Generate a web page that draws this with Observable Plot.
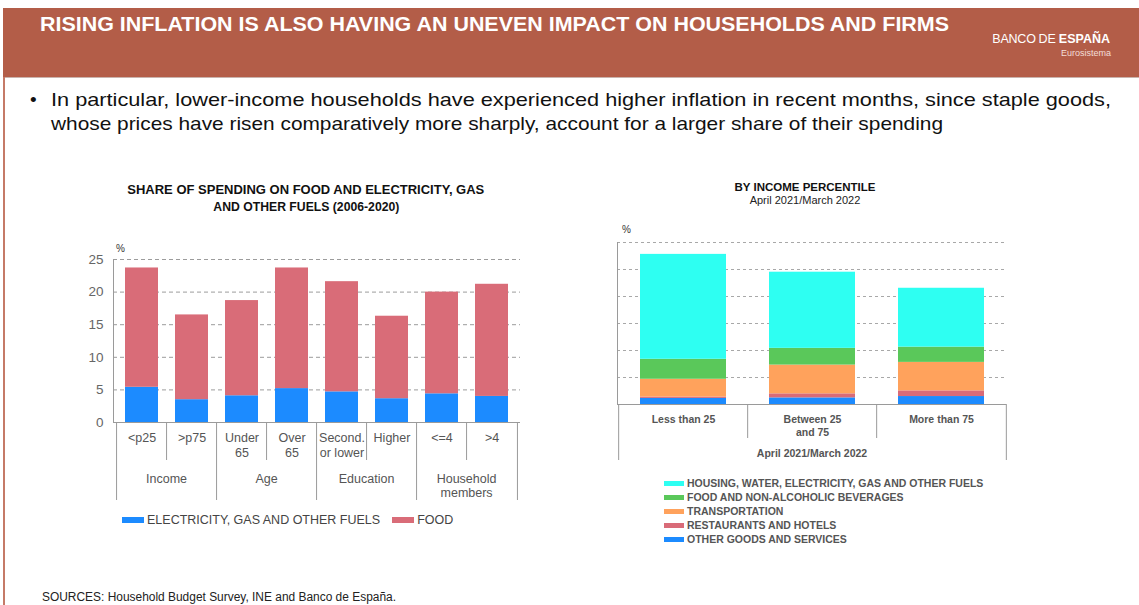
<!DOCTYPE html>
<html>
<head>
<meta charset="utf-8">
<script src="https://cdn.jsdelivr.net/npm/d3@7"></script>
<script src="https://cdn.jsdelivr.net/npm/@observablehq/plot@0.6"></script>
<style>
  html, body { margin: 0; padding: 0; background: #fff; }
  body { width: 1139px; height: 605px; position: relative; overflow: hidden; font-family: "Liberation Sans", Arial, Helvetica, sans-serif; }
  .abs { position: absolute; white-space: nowrap; }
  .fit { display: inline-block; transform-origin: 0 50%; }
  .fitc { display: inline-block; transform-origin: 50% 50%; }
  #header { position: absolute; left: 3px; top: 8px; width: 1136px; height: 69px; background: #B35D48; border-bottom: 1px solid #c9b3ad; }
  #leftborder { position: absolute; left: 3px; top: 77px; width: 2px; height: 528px; background: #C57A67; }
  .svgwrap { position: absolute; }
  .legend-row { display: flex; align-items: center; }
  .sw { display: inline-block; }
</style>
</head>
<body>
<div id="header"></div>
<div id="leftborder"></div>
<div class="abs" style="left:40px; top:13px; font-size:21px; line-height:21px; font-weight:bold; color:#fff;"><span class="fit" data-w="909">RISING INFLATION IS ALSO HAVING AN UNEVEN IMPACT ON HOUSEHOLDS AND FIRMS</span></div>
<div class="abs" style="right:29px; top:32px; font-size:12.5px; line-height:14px; color:#fff; letter-spacing:-0.2px;">BANCO<span style="letter-spacing:-0.6px"> </span>DE <b style="letter-spacing:0">ESPAÑA</b></div>
<div class="abs" style="right:28px; top:48px; font-size:9px; line-height:10px; color:#f3ded8;">Eurosistema</div>

<div class="abs" style="left:30px; top:88px; font-size:19px; line-height:24px; color:#111;">•</div>
<div class="abs" style="left:51px; top:88px; font-size:19px; line-height:24px; color:#111;"><span class="fit" data-w="1060">In particular, lower-income households have experienced higher inflation in recent months, since staple goods,</span></div>
<div class="abs" style="left:51px; top:112px; font-size:19px; line-height:24px; color:#111;"><span class="fit" data-w="892">whose prices have risen comparatively more sharply, account for a larger share of their spending</span></div>

<div class="abs" style="left:106px; top:182px; width:400px; text-align:center; font-size:12px; line-height:17px; font-weight:bold; color:#111;"><span class="fitc" data-w="357">SHARE OF SPENDING ON FOOD AND ELECTRICITY, GAS</span><br><span class="fitc" data-w="186">AND OTHER FUELS (2006-2020)</span></div>
<div class="abs" style="left:116px; top:243px; font-size:10px; line-height:12px; color:#333;">%</div>

<div class="abs" style="left:655px; top:181px; width:300px; text-align:center; font-size:11.5px; line-height:13px; color:#222;"><b style="color:#111">BY INCOME PERCENTILE</b><br><span style="font-size:11px">April 2021/March 2022</span></div>
<div class="abs" style="left:622px; top:224px; font-size:10px; line-height:12px; color:#333;">%</div>

<div id="chart1" class="svgwrap" style="left:60px; top:235px;"></div>
<div id="chart2" class="svgwrap" style="left:560px; top:220px;"></div>

<div id="legend1" class="abs legend-row" style="left:122px; top:512px; height:16px; font-size:12.5px; color:#444;"></div>
<div id="legend2" class="abs" style="left:664px; top:476px; font-size:10.5px; font-weight:bold; color:#555;"></div>

<div class="abs" style="left:42px; top:590px; font-size:12px; line-height:14px; color:#222;"><span class="fit" data-w="354">SOURCES: Household Budget Survey, INE and Banco de España.</span></div>

<script>
// ---------- LEFT CHART DATA ----------
const leftCategories = ["<p25", ">p75", "Under 65", "Over 65", "Second. or lower", "Higher", "<=4", ">4"];
const leftTickLabels = ["<p25", ">p75", "Under\n65", "Over\n65", "Second.\nor lower", "Higher", "<=4", ">4"];
const leftGroupOfCategory = ["Income", "Income", "Age", "Age", "Education", "Education", "Household\nmembers", "Household\nmembers"];
const leftSeries = ["ELECTRICITY, GAS AND OTHER FUELS", "FOOD"];
const electricityGasFuels = [5.4, 3.5, 4.1, 5.2, 4.7, 3.65, 4.4, 4.0];
const foodShare = [18.3, 13.0, 14.6, 18.5, 16.9, 12.65, 15.6, 17.2];
const leftYTicks = [0, 5, 10, 15, 20, 25];
const leftColors = ["#1C8BFF", "#D96C78"];

// ---------- RIGHT CHART DATA ----------
const rightCategories = ["Less than 25", "Between 25 and 75", "More than 75"];
const rightTickLabels = ["Less than 25", "Between 25\nand 75", "More than 75"];
const rightAxisTitle = "April 2021/March 2022";
const rightSeries = ["HOUSING, WATER, ELECTRICITY, GAS AND OTHER FUELS", "FOOD AND NON-ALCOHOLIC BEVERAGES", "TRANSPORTATION", "RESTAURANTS AND HOTELS", "OTHER GOODS AND SERVICES"];
const housingWaterElec = [7.77, 5.64, 4.36];
const foodNonAlcoholic = [1.48, 1.24, 1.13];
const transportation = [1.32, 2.13, 2.11];
const restaurantsHotels = [0.10, 0.30, 0.42];
const otherGoodsServices = [0.45, 0.49, 0.59];
const rightGridTicks = [2, 4, 6, 8, 10, 12];
const rightColors = ["#2EFFF2", "#5AC85A", "#FFA25C", "#D96B78", "#1C8BFF"];

const FONT = "Liberation Sans, Arial, Helvetica, sans-serif";

// ---------- LEFT CHART ----------
{
  const W = 470, H = 266, mL = 53, mR = 10, mT = 24, mB = 79;
  const innerH = H - mT - mB;
  const step = (W - mL - mR) / leftCategories.length;
  const rows = [];
  leftCategories.forEach((c, i) => {
    rows.push({cat: c, series: leftSeries[0], value: electricityGasFuels[i]});
    rows.push({cat: c, series: leftSeries[1], value: foodShare[i]});
  });
  const inner = leftCategories.filter((c, i) => i > 0 && leftGroupOfCategory[i] === leftGroupOfCategory[i - 1]);
  const groupStarts = leftCategories.filter((c, i) => i === 0 || leftGroupOfCategory[i] !== leftGroupOfCategory[i - 1]);
  const groupLabelAnchors = inner;
  const lastCat = leftCategories[leftCategories.length - 1];

  const chart = Plot.plot({
    width: W, height: H, marginLeft: mL, marginRight: mR, marginTop: mT, marginBottom: mB,
    style: {fontFamily: FONT, background: "transparent", overflow: "visible"},
    x: {domain: leftCategories, paddingInner: 0.34, paddingOuter: 0.17, axis: null},
    y: {domain: [0, 25], axis: null},
    color: {domain: leftSeries, range: leftColors},
    marks: [
      Plot.gridY(leftYTicks.filter(t => t > 0), {stroke: "#9c9c9c", strokeOpacity: 1, strokeDasharray: "4,3"}),
      Plot.barY(rows, {x: "cat", y: "value", fill: "series"}),
      Plot.ruleY([0], {stroke: "#9a9a9a"}),
      Plot.frame({anchor: "left", stroke: "#9a9a9a"}),
      Plot.axisY(leftYTicks, {tickSize: 0, tickPadding: 10, fontSize: 13.5, fill: "#666", label: null}),
      Plot.ruleX(inner, {x: d => d, dx: -step / 2, stroke: "#9a9a9a", insetTop: innerH, insetBottom: -38}),
      Plot.ruleX(groupStarts, {x: d => d, dx: -step / 2, stroke: "#9a9a9a", insetTop: innerH, insetBottom: -78}),
      Plot.ruleX([lastCat], {x: d => d, dx: step / 2, stroke: "#9a9a9a", insetTop: innerH, insetBottom: -78}),
      Plot.text(leftCategories, {x: d => d, text: (d, i) => leftTickLabels[i], frameAnchor: "bottom", lineAnchor: "top", dy: 9, fontSize: 12.5, lineHeight: 1.2, fill: "#555"}),
      Plot.text(groupLabelAnchors, {x: d => d, text: d => leftGroupOfCategory[leftCategories.indexOf(d)], dx: -step / 2, frameAnchor: "bottom", lineAnchor: "top", dy: 50, fontSize: 12.5, lineHeight: 1.15, fill: "#555"})
    ]
  });
  document.getElementById("chart1").appendChild(chart);

  const lg = document.getElementById("legend1");
  leftSeries.forEach((s, i) => {
    const item = document.createElement("span");
    item.className = "legend-row";
    item.style.marginRight = "12px";
    item.innerHTML = `<span class="sw" style="width:22px;height:6px;background:${leftColors[i]};margin-right:3px"></span><span>${s}</span>`;
    lg.appendChild(item);
  });
}

// ---------- RIGHT CHART ----------
{
  const W = 466, H = 242, mL = 57, mR = 20, mT = 22, mB = 58;
  const innerH = H - mT - mB;
  const step = (W - mL - mR) / rightCategories.length;
  const seriesValues = [housingWaterElec, foodNonAlcoholic, transportation, restaurantsHotels, otherGoodsServices];
  const rows = [];
  // bottom of stack first: other goods, restaurants, transportation, food, housing
  for (let s = rightSeries.length - 1; s >= 0; s--) {
    rightCategories.forEach((c, i) => rows.push({cat: c, series: rightSeries[s], value: seriesValues[s][i]}));
  }
  const inner = rightCategories.slice(1);
  const first = rightCategories[0];
  const last = rightCategories[rightCategories.length - 1];

  const chart = Plot.plot({
    width: W, height: H, marginLeft: mL, marginRight: mR, marginTop: mT, marginBottom: mB,
    style: {fontFamily: FONT, background: "transparent", overflow: "visible"},
    x: {domain: rightCategories, paddingInner: 0.337, paddingOuter: 0.1685, axis: null},
    y: {domain: [0, 12], axis: null},
    color: {domain: rightSeries, range: rightColors},
    marks: [
      Plot.gridY(rightGridTicks, {stroke: "#a8a8a8", strokeOpacity: 1, strokeDasharray: "3,3"}),
      Plot.barY(rows, {x: "cat", y: "value", fill: "series", order: null}),
      Plot.ruleY([0], {stroke: "#9a9a9a"}),
      Plot.frame({anchor: "left", stroke: "#9a9a9a"}),
      Plot.ruleX(inner, {x: d => d, dx: -step / 2, stroke: "#9a9a9a", insetTop: innerH, insetBottom: -34}),
      Plot.ruleX([first], {x: d => d, dx: -step / 2, stroke: "#9a9a9a", insetTop: innerH, insetBottom: -56}),
      Plot.ruleX([last], {x: d => d, dx: step / 2, stroke: "#9a9a9a", insetTop: innerH, insetBottom: -56}),
      Plot.text(rightCategories, {x: d => d, text: (d, i) => rightTickLabels[i], frameAnchor: "bottom", lineAnchor: "top", dy: 9, fontSize: 10.5, fontWeight: "bold", lineHeight: 1.25, fill: "#555"}),
      Plot.text([rightAxisTitle], {text: d => d, frameAnchor: "bottom", lineAnchor: "middle", dy: 49, fontSize: 10.5, fontWeight: "bold", fill: "#555"})
    ]
  });
  document.getElementById("chart2").appendChild(chart);

  const lg = document.getElementById("legend2");
  rightSeries.forEach((s, i) => {
    const row = document.createElement("div");
    row.className = "legend-row";
    row.style.height = "14px";
    row.innerHTML = `<span class="sw" style="width:20px;height:5px;background:${rightColors[i]};margin-right:3px"></span><span>${s}</span>`;
    lg.appendChild(row);
  });
}

// fit long text lines to measured widths of the reference
document.querySelectorAll(".fit, .fitc").forEach(el => {
  const target = +el.dataset.w;
  const w = el.getBoundingClientRect().width;
  if (w > 0) el.style.transform = `scaleX(${target / w})`;
});
</script>
</body>
</html>
